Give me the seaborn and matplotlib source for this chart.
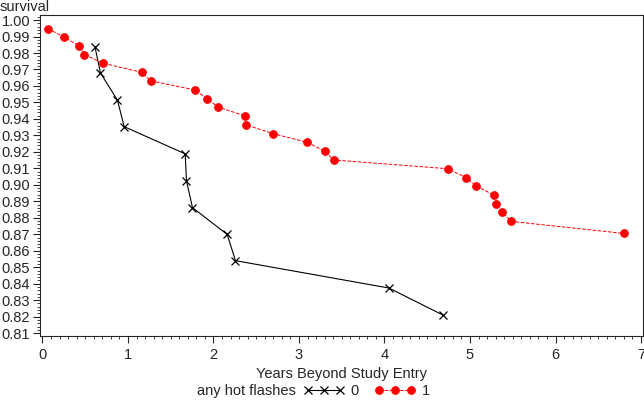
import pandas as pd
import numpy as np
import matplotlib.pyplot as plt
import seaborn as sns
from matplotlib.ticker import MultipleLocator

# survival estimates
years_0 = [0.613, 0.678, 0.877, 0.956, 1.669, 1.684, 1.754, 2.160, 2.257, 4.051, 4.683]
surv_0 = [0.9839, 0.9679, 0.9513, 0.9353, 0.9188, 0.9025, 0.8862, 0.8699, 0.8540, 0.8374, 0.8210]

years_1 = [0.063, 0.254, 0.429, 0.491, 0.710, 1.158, 1.268, 1.782, 1.923, 2.058, 2.374, 2.378,
           2.695, 3.099, 3.303, 3.404, 4.737, 4.955, 5.076, 5.283, 5.303, 5.377, 5.485, 6.803]
surv_1 = [0.9948, 0.9896, 0.9843, 0.9790, 0.9738, 0.9683, 0.9631, 0.9576, 0.9523, 0.9471, 0.9418, 0.9364,
          0.9311, 0.9258, 0.9203, 0.9151, 0.9098, 0.9044, 0.8993, 0.8936, 0.8886, 0.8833, 0.8778, 0.8705]

df0 = pd.DataFrame({'years': years_0, 'survival': surv_0})
df1 = pd.DataFrame({'years': years_1, 'survival': surv_1})

sns.set_style('ticks')
plt.rcParams['font.family'] = ['Liberation Sans', 'DejaVu Sans']
plt.rcParams['font.size'] = 10.5

fig = plt.figure(figsize=(6.44, 4.04), dpi=100)
ax = fig.add_axes([0.062, 0.168, 0.936, 0.795])

sns.lineplot(data=df0, x='years', y='survival', color='black', marker='x',
             markersize=6, markeredgewidth=0.9, markeredgecolor='black', linewidth=0.8,
             estimator=None, sort=False, label='0', ax=ax)
sns.lineplot(data=df1, x='years', y='survival', color='red', marker='o',
             markersize=5.5, markeredgecolor='red', linewidth=0.7, dashes=(2, 1.2),
             linestyle='--', estimator=None, sort=False, label='1', ax=ax)

ax.set_xlim(-0.03, 7.02)
ax.set_ylim(0.8082, 1.0031)
ax.xaxis.set_major_locator(MultipleLocator(1))
ax.xaxis.set_minor_locator(MultipleLocator(0.1))
ax.yaxis.set_major_locator(MultipleLocator(0.01))
ax.yaxis.set_minor_locator(MultipleLocator(0.002))
ax.yaxis.set_major_formatter(plt.FormatStrFormatter('%.2f'))
ax.tick_params(which='major', length=5, width=0.8, labelsize=10.5)
ax.tick_params(which='minor', length=2.5, width=0.6)
ax.tick_params(axis='y', which='major', pad=2)
for s in ax.spines.values():
    s.set_linewidth(0.8)

ax.set_xlabel('Years Beyond Study Entry', fontsize=10.5, labelpad=4)
ax.set_ylabel('')
fig.text(0.0, 0.999, 'survival', ha='left', va='top', fontsize=10.5)

handles, labels = ax.get_legend_handles_labels()
ax.legend_.remove()
fig.text(0.46, 0.032, 'any hot flashes', ha='right', va='center', fontsize=10.5)
fig.legend(handles, labels, loc='center left', bbox_to_anchor=(0.472, 0.032),
           ncol=2, frameon=False, numpoints=3, handlelength=2.8,
           handletextpad=0.4, columnspacing=1.1, fontsize=10.5,
           borderaxespad=0, borderpad=0)

fig.savefig('out.png', dpi=100)
